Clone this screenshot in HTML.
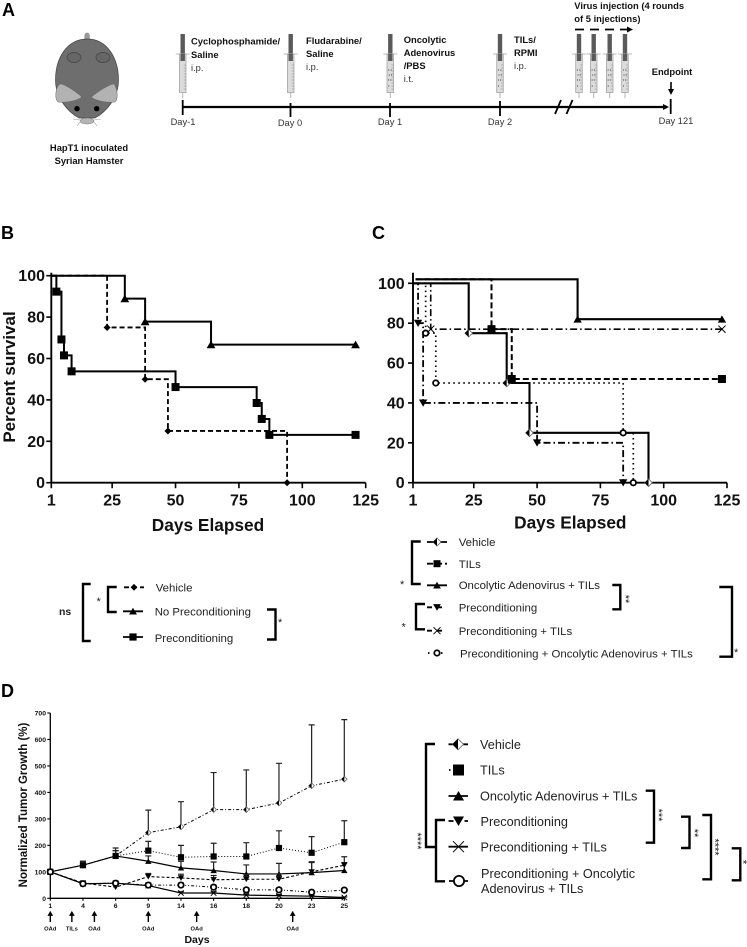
<!DOCTYPE html>
<html lang="en">
<head>
<meta charset="utf-8">
<title>Survival and tumor growth figure</title>
<style>
html,body{margin:0;padding:0;background:#fff;}
svg{display:block;font-family:"Liberation Sans",Arial,sans-serif;}
.letter{font-size:18px;font-weight:bold;fill:#000;}
.a-b{font-size:9.4px;font-weight:bold;fill:#111;}
.a-n{font-size:9.3px;fill:#333;}
.leg{font-size:11.4px;fill:#222;}
.legd{font-size:12.7px;fill:#222;}
.brk{fill:none;stroke:#000;stroke-width:2.4;}
.st{font-size:11px;fill:#222;}
.sw{stroke:#000;stroke-width:1.8;fill:none;}
</style>
</head>
<body>
<svg id="fig" xmlns="http://www.w3.org/2000/svg" width="747" height="947" viewBox="0 0 747 947">
<defs>
  <g id="m-diamond"><path d="M0-1 1 0 0 1-1 0Z" fill="#000"/></g>
  <g id="m-dhalf"><path d="M0-1 1 0 0 1-1 0Z" fill="#fff" stroke="#666" stroke-width="0.8" vector-effect="non-scaling-stroke"/><path d="M0-1 0 1-1 0Z" fill="#000"/></g>
  <g id="m-square"><rect x="-1" y="-1" width="2" height="2" fill="#000"/></g>
  <g id="m-up"><path d="M0-1 1.1 0.9-1.1 0.9Z" fill="#000"/></g>
  <g id="m-down"><path d="M0 1 1.1-0.9-1.1-0.9Z" fill="#000"/></g>
  <g id="m-x"><path d="M-1-1 1 1M1-1-1 1" fill="none" stroke="#000" stroke-width="1" vector-effect="non-scaling-stroke"/></g>
  <g id="m-circle"><circle r="0.85" fill="#fff" stroke="#000" stroke-width="1.8" vector-effect="non-scaling-stroke"/></g>
  <g id="syr">
    <rect x="-2.2" y="0" width="4.4" height="27" fill="#5a5a5a"/>
    <path d="M-7 20H7" stroke="#aaa" stroke-width="0.8"/>
    <rect x="-3.3" y="20" width="6.6" height="38.5" fill="#dcdcdc" stroke="#a5a5a5" stroke-width="0.8"/>
    <rect x="-2.2" y="20" width="4.4" height="7" fill="#5a5a5a"/>
    <path d="M1 31H3M1 34H3M1 37H3M1 40H3M1 43H3M1 46H3M1 49H3M1 52H3M1 55H3" stroke="#888" stroke-width="0.6"/>
    <path d="M0 58.5V64" stroke="#aaa" stroke-width="0.9"/>
  </g>
  <g id="dots" fill="#555">
    <circle cx="-1.6" cy="36" r="0.6"/><circle cx="0.8" cy="36" r="0.6"/><circle cx="-1" cy="41" r="0.6"/><circle cx="1.2" cy="41" r="0.6"/><circle cx="-1.6" cy="46" r="0.6"/><circle cx="0.5" cy="46" r="0.6"/><circle cx="-1.5" cy="52" r="0.6"/>
  </g>
  <marker id="ah" markerWidth="6" markerHeight="6" refX="4" refY="3" orient="auto" markerUnits="userSpaceOnUse"><path d="M0 0 6 3 0 6Z" fill="#000"/></marker>
</defs>

<text class="letter" x="2" y="16">A</text>
<text class="letter" x="1" y="239">B</text>
<text class="letter" x="372" y="239">C</text>
<text class="letter" x="1" y="697">D</text>

<g>
  <rect x="84.8" y="33" width="4.6" height="8" rx="2.2" fill="#999" stroke="#777" stroke-width="0.5"/>
  <path d="M87.3 39C67 39 55.5 58 55.5 80C55.5 98 68 112 79 118H95C106 112 118.5 98 118.5 80C118.5 58 107 39 87.3 39Z" fill="#6e6e6e" stroke="#444" stroke-width="0.7"/>
  <ellipse cx="74" cy="57.5" rx="7" ry="5" fill="#666" stroke="#444" stroke-width="0.7"/>
  <ellipse cx="103" cy="57.5" rx="7" ry="5" fill="#666" stroke="#444" stroke-width="0.7"/>
  <path d="M61 84C66 85 78 93 81.5 97C79 100 68 103 58 102C55 100 55.5 92 57 88C58 86 59 84 61 84Z" fill="#b2b2b2" stroke="#666" stroke-width="0.5"/>
  <path d="M113 84C108 85 96 93 91.5 97C94 100 105 103 115 102C118 100 117.5 92 116 88C115 86 115 84 113 84Z" fill="#b2b2b2" stroke="#666" stroke-width="0.5"/>
  <circle cx="77" cy="108.7" r="2.7" fill="#000"/>
  <circle cx="96.7" cy="108.7" r="2.7" fill="#000"/>
  <ellipse cx="87" cy="121" rx="7" ry="3" fill="#b5b5b5" stroke="#777" stroke-width="0.5"/>
  <path d="M80 120 73 119M80 122 77 126M94 120 101 119M94 122 97 126" stroke="#999" stroke-width="0.6" fill="none"/>
</g>
<text class="a-b" x="89" y="151" text-anchor="middle">HapT1 inoculated</text>
<text class="a-b" x="89" y="164" text-anchor="middle">Syrian Hamster</text>

<g>
  <path d="M182 107H667" stroke="#000" stroke-width="2.2" fill="none" marker-end="url(#ah)"/>
  <path d="M182.7 100V115M290.5 103V117M390 103V117M500 101V116M670.7 99V114" stroke="#000" stroke-width="1.8" fill="none"/>
  <path d="M555 114 561 100M566.5 114 572.5 100" stroke="#000" stroke-width="1.8" fill="none"/>
  <use href="#syr" x="182.7" y="34"/>
  <use href="#syr" x="290.7" y="34"/>
  <use href="#syr" x="390.3" y="34"/>
  <use href="#dots" x="390.3" y="34"/>
  <use href="#syr" x="500" y="34"/>
  <use href="#dots" x="500" y="34"/>
  <use href="#syr" x="579" y="34"/>
  <use href="#dots" x="579" y="34"/>
  <use href="#syr" x="593.7" y="34"/>
  <use href="#dots" x="593.7" y="34"/>
  <use href="#syr" x="609.7" y="34"/>
  <use href="#dots" x="609.7" y="34"/>
  <use href="#syr" x="625" y="34"/>
  <use href="#dots" x="625" y="34"/>
  <path d="M575 29.5H631" stroke="#000" stroke-width="1.8" stroke-dasharray="9 6" fill="none" marker-end="url(#ah)"/>
  <path d="M671 82V93" stroke="#000" stroke-width="1.6" fill="none" marker-end="url(#ah)"/>
</g>
<g>
  <text class="a-n" x="183" y="125" text-anchor="middle">Day-1</text>
  <text class="a-n" x="290" y="126" text-anchor="middle">Day 0</text>
  <text class="a-n" x="390" y="125" text-anchor="middle">Day 1</text>
  <text class="a-n" x="500" y="125" text-anchor="middle">Day 2</text>
  <text class="a-n" x="676" y="124" text-anchor="middle">Day 121</text>
  <text class="a-b" x="191" y="44.5">Cyclophosphamide/</text>
  <text class="a-b" x="191" y="58">Saline</text>
  <text class="a-n" x="191" y="71">i.p.</text>
  <text class="a-b" x="306" y="44">Fludarabine/</text>
  <text class="a-b" x="306" y="57">Saline</text>
  <text class="a-n" x="306" y="70">i.p.</text>
  <text class="a-b" x="403.7" y="43">Oncolytic</text>
  <text class="a-b" x="403.7" y="56">Adenovirus</text>
  <text class="a-b" x="403.7" y="69">/PBS</text>
  <text class="a-n" x="403.7" y="82">i.t.</text>
  <text class="a-b" x="514" y="43">TILs/</text>
  <text class="a-b" x="514" y="56">RPMI</text>
  <text class="a-n" x="514" y="69">i.p.</text>
  <text class="a-b" x="574.3" y="9">Virus injection (4 rounds</text>
  <text class="a-b" x="574.3" y="22">of 5 injections)</text>
  <text class="a-b" x="651.7" y="75">Endpoint</text>
</g>

<g id="panelB"></g>
<g id="panelC"></g>
<g id="panelD"></g>

<g>
  <text x="59" y="615" font-size="10.5" font-weight="bold" fill="#222">ns</text>
  <path class="brk" d="M90.7 584H83V641H90.7"/>
  <text class="st" x="96.5" y="605">*</text>
  <path class="brk" d="M116.7 587H108V612H116.7"/>
  <path class="brk" d="M267 609.5H275.5V639.5H267"/>
  <text class="st" x="278" y="626">*</text>
  <g>
    <path class="sw" stroke-dasharray="5 3" d="M124 587.3H144"/>
    <use href="#m-diamond" transform="translate(134 587.3) scale(3.4)"/>
    <text class="leg" x="155.7" y="591.5">Vehicle</text>
  </g>
  <g>
    <path class="sw" d="M123 611.3H143"/>
    <use href="#m-up" transform="translate(133 611.3) scale(3.6)"/>
    <text class="leg" x="154.7" y="615.5">No Preconditioning</text>
  </g>
  <g>
    <path class="sw" d="M123 637H143"/>
    <use href="#m-square" transform="translate(133 637) scale(3.6)"/>
    <text class="leg" x="154.7" y="642">Preconditioning</text>
  </g>
</g>

<g>
  <path class="brk" d="M420.7 541.5H412V584H420.7"/>
  <text class="st" x="400" y="588">*</text>
  <path class="brk" d="M425 604H416V629.3H425"/>
  <text class="st" x="401.5" y="630.5">*</text>
  <path class="brk" d="M612.3 585H620.3V609.3H612.3"/>
  <text class="st" transform="translate(622 599) rotate(90)" text-anchor="middle">**</text>
  <path class="brk" d="M719.3 587H732V656.7H719.3"/>
  <text class="st" x="734" y="656">*</text>
  <g>
    <path class="sw" d="M427 542H447"/><use href="#m-dhalf" transform="translate(437 542) scale(4)"/>
    <text class="leg" x="458.7" y="546">Vehicle</text>
  </g>
  <g>
    <path class="sw" stroke-dasharray="6 3" d="M427 563.7H447"/><use href="#m-square" transform="translate(437 563.7) scale(3.5)"/>
    <text class="leg" x="458.7" y="568">TILs</text>
  </g>
  <g>
    <path class="sw" d="M427 585.3H447"/><use href="#m-up" transform="translate(437 585.3) scale(3.5)"/>
    <text class="leg" x="458.7" y="589">Oncolytic Adenovirus + TILs</text>
  </g>
  <g>
    <path class="sw" stroke-dasharray="5 5" d="M427 607.3H447"/><use href="#m-down" transform="translate(437 607.3) scale(3.5)"/>
    <text class="leg" x="458.7" y="611.5">Preconditioning</text>
  </g>
  <g>
    <path class="sw" stroke-dasharray="5 5" d="M427 630.7H447"/><use href="#m-x" transform="translate(437 630.7) scale(3.5)"/>
    <text class="leg" x="458.7" y="635">Preconditioning + TILs</text>
  </g>
  <g>
    <path class="sw" stroke-dasharray="1.5 5" d="M428 653H447"/><use href="#m-circle" transform="translate(437 653) scale(3.2)"/>
    <text class="leg" x="460" y="657.5">Preconditioning + Oncolytic Adenovirus + TILs</text>
  </g>
</g>

<g>
  <path class="brk" d="M435 744H426V847H435"/>
  <path class="brk" d="M445 820H436V881.3H445"/>
  <text class="st" transform="translate(414 841) rotate(90)" text-anchor="middle" font-size="9">****</text>
  <path class="brk" d="M645.7 790.7H654V842.7H645.7"/>
  <text class="st" transform="translate(655 815) rotate(90)" text-anchor="middle" font-size="9">***</text>
  <path class="brk" d="M681 816.7H689.5V848H681"/>
  <text class="st" transform="translate(691 833) rotate(90)" text-anchor="middle" font-size="9">**</text>
  <path class="brk" d="M702.3 815H711V879.3H702.3"/>
  <text class="st" transform="translate(711.5 847) rotate(90)" text-anchor="middle" font-size="9">****</text>
  <path class="brk" d="M731.7 848.3H740.3V880.3H731.7"/>
  <text class="st" transform="translate(739.5 862) rotate(90)" text-anchor="middle" font-size="9">*</text>
  <g>
    <path class="sw" d="M448.5 744.3H468"/><use href="#m-dhalf" transform="translate(458 744.3) scale(5.5)"/>
    <text class="legd" x="480" y="749">Vehicle</text>
  </g>
  <g>
    <path class="sw" stroke-width="1" stroke-dasharray="1.5 12" d="M449 770H467"/><use href="#m-square" transform="translate(458.5 770) scale(5.5)"/>
    <text class="legd" x="480" y="774.5">TILs</text>
  </g>
  <g>
    <path class="sw" d="M448.5 796H468"/><use href="#m-up" transform="translate(458.5 796) scale(5)"/>
    <text class="legd" x="480" y="800.5">Oncolytic Adenovirus + TILs</text>
  </g>
  <g>
    <path class="sw" stroke-dasharray="5 11" d="M448.5 821H468"/><use href="#m-down" transform="translate(458.5 821) scale(5)"/>
    <text class="legd" x="480.5" y="826">Preconditioning</text>
  </g>
  <g>
    <path class="sw" d="M448.5 846.7H468"/><use href="#m-x" transform="translate(458.5 846.7) scale(5.5)"/>
    <text class="legd" x="480.5" y="851.5">Preconditioning + TILs</text>
  </g>
  <g>
    <path class="sw" d="M449 881H468"/><use href="#m-circle" transform="translate(459 881) scale(6)"/>
    <text class="legd" x="481" y="878">Preconditioning + Oncolytic</text>
    <text class="legd" x="481" y="893">Adenovirus + TILs</text>
  </g>
</g>
</svg>

<script>
// Panel B: survival
var bTicksX = [1, 25, 50, 75, 100, 125];
var bTicksY = [0, 20, 40, 60, 80, 100];
var bVehicleDays = [1, 23, 38, 47, 94];
var bVehicleSurvival = [100, 75, 50, 25, 0];
var bNoPrecondDays = [1, 30, 38, 64, 121];
var bNoPrecondSurvival = [100, 88.9, 77.8, 66.7, 66.7];
var bPrecondDays = [1, 3, 5, 6, 9, 50, 82, 84, 87, 121];
var bPrecondSurvival = [100, 92.3, 69.2, 61.5, 53.8, 46.2, 38.5, 30.8, 23.1, 23.1];

// Panel C: survival
var cTicksX = [1, 25, 50, 75, 100, 125];
var cTicksY = [0, 20, 40, 60, 80, 100];
var cVehicleDays = [1, 23, 38, 47, 94];
var cVehicleSurvival = [100, 75, 50, 25, 0];
var cTilsDays = [2, 32, 40, 123];
var cTilsSurvival = [102, 77, 52, 52];
var cOncolyticDays = [2, 66, 123];
var cOncolyticSurvival = [102, 82, 82];
var cPrecondDays = [1, 3, 5, 50, 84];
var cPrecondSurvival = [100, 80, 40, 20, 0];
var cPrecondTilsDays = [1, 8, 123];
var cPrecondTilsSurvival = [100, 77, 77];
var cTripleDays = [1, 6, 10, 84, 88];
var cTripleSurvival = [100, 75, 50, 25, 0];

// Panel D: tumor growth
var dDays = ['1', '4', '6', '9', '14', '16', '18', '20', '23', '25'];
var dTicksY = [0, 100, 200, 300, 400, 500, 600, 700];
var dVehicle = [100, 125, 160, 248, 270, 335, 335, 360, 425, 450];
var dVehicleErr = [0, 15, 30, 85, 95, 140, 150, 150, 230, 225];
var dTils = [100, 125, 160, 180, 155, 158, 158, 190, 172, 212];
var dTilsErr = [0, 15, 20, 35, 45, 50, 52, 65, 61, 81];
var dOncolytic = [100, 125, 160, 140, 115, 105, 92, 92, 97, 105];
var dOncolyticErr = [0, 12, 20, 20, 25, 32, 34, 40, 38, 30];
var dPrecond = [100, 58, 42, 82, 77, 70, 72, 72, 100, 125];
var dPrecondErr = [0, 6, 10, 12, 14, 16, 18, 20, 38, 32];
var dPrecondTils = [100, 55, 57, 48, 20, 20, 12, 10, 8, 3];
var dPrecondTilsErr = [0, 5, 6, 6, 5, 5, 4, 4, 3, 2];
var dTriple = [100, 55, 57, 50, 50, 42, 32, 32, 23, 31];
var dTripleErr = [0, 6, 8, 8, 8, 8, 6, 6, 5, 5];
var dTreatments = ['OAd', 'TILs', 'OAd', 'OAd', 'OAd', 'OAd'];
var dTreatmentAt = [0, 0.66, 1.35, 3, 4.48, 7.42];

var NS = 'http://www.w3.org/2000/svg';
function mk(parent, tag, name) {
  var el = document.createElementNS(NS, tag);
  
  
  parent.appendChild(el);
  return el;
}
function linear(d0, d1, r0, r1) {
  return function (v) { return r0 + (v - d0) * (r1 - r0) / (d1 - d0); };
}
function line(parent, name, d, width, dash, color) {
  var el = mk(parent, 'path', name);
  el.setAttribute('d', d);
  el.setAttribute('fill', 'none');
  el.setAttribute('stroke', color || '#000');
  el.setAttribute('stroke-width', width);
  if (dash) el.setAttribute('stroke-dasharray', dash);
  return el;
}
function label(parent, name, str, x, y, size, anchor, rot) {
  var el = mk(parent, 'text', name);
  el.textContent = str;
  el.setAttribute('font-size', size);
  el.setAttribute('font-weight', 'bold');
  el.setAttribute('fill', '#111');
  el.setAttribute('text-anchor', anchor);
  if (rot) {
    el.setAttribute('transform', 'translate(' + x + ' ' + y + ') rotate(' + rot + ')');
  } else {
    el.setAttribute('x', x);
    el.setAttribute('y', y);
  }
  return el;
}
function marker(parent, name, kind, x, y, s) {
  var el = mk(parent, 'use', name);
  el.setAttribute('href', '#m-' + kind);
  el.setAttribute('transform', 'translate(' + x + ' ' + y + ') scale(' + s + ')');
  return el;
}
function stepSeries(parent, name, days, vals, sx, sy, kind, size, width, dash) {
  var g = mk(parent, 'g', name);
  var d = 'M' + sx(days[0]) + ' ' + sy(vals[0]);
  for (var i = 1; i < days.length; i++) {
    d += 'H' + sx(days[i]) + 'V' + sy(vals[i]);
  }
  line(g, name + '-line', d, width, dash);
  for (var j = 1; j < days.length; j++) {
    marker(g, name + '-point', kind, sx(days[j]), sy(vals[j]), size);
  }
}
function survivalAxes(parent, sx, sy, ticksX, ticksY, yLabelX, topPx) {
  var x0 = sx(ticksX[0]), x1 = sx(ticksX[ticksX.length - 1]), y0 = sy(0);
  line(parent, 'x-axis', 'M' + x0 + ' ' + y0 + 'H' + x1, 1.9);
  line(parent, 'y-axis', 'M' + x0 + ' ' + topPx + 'V' + y0, 1.9);
  ticksX.forEach(function (t) {
    line(parent, 'x-tick', 'M' + sx(t) + ' ' + y0 + 'v5.5', 1.6);
    label(parent, 'x-tick-label', String(t), sx(t), y0 + 23, 16, 'middle');
  });
  ticksY.forEach(function (t) {
    line(parent, 'y-tick', 'M' + x0 + ' ' + sy(t) + 'h-5', 1.6);
    label(parent, 'y-tick-label', String(t), yLabelX, sy(t) + 5.5, 16, 'end');
  });
}

// Panel B
var gB = document.getElementById('panelB');
var bx = linear(1, 125, 51.3, 365.7);
var by = linear(0, 100, 482.7, 275.7);
survivalAxes(gB, bx, by, bTicksX, bTicksY, 45, 272.7);
stepSeries(gB, 'series-vehicle', bVehicleDays, bVehicleSurvival, bx, by, 'diamond', 3.5, 1.8, '5 3');
stepSeries(gB, 'series-no-preconditioning', bNoPrecondDays, bNoPrecondSurvival, bx, by, 'up', 4, 2);
stepSeries(gB, 'series-preconditioning', bPrecondDays, bPrecondSurvival, bx, by, 'square', 4, 2);
label(gB, 'x-axis-title', 'Days Elapsed', 208, 531, 17.3, 'middle');
label(gB, 'y-axis-title', 'Percent survival', 15, 377, 17, 'middle', -90);

// Panel C
var gC = document.getElementById('panelC');
var cx = linear(1, 125, 413, 727);
var cy = linear(0, 100, 482.7, 283.3);
survivalAxes(gC, cx, cy, cTicksX, cTicksY, 404.7, 272.7);
stepSeries(gC, 'series-vehicle', cVehicleDays, cVehicleSurvival, cx, cy, 'dhalf', 3.8, 2.1);
stepSeries(gC, 'series-tils', cTilsDays, cTilsSurvival, cx, cy, 'square', 4, 2, '6 3');
stepSeries(gC, 'series-oncolytic-tils', cOncolyticDays, cOncolyticSurvival, cx, cy, 'up', 3.8, 2.1);
stepSeries(gC, 'series-preconditioning', cPrecondDays, cPrecondSurvival, cx, cy, 'down', 3.8, 1.8, '7 3 1.5 3');
stepSeries(gC, 'series-preconditioning-tils', cPrecondTilsDays, cPrecondTilsSurvival, cx, cy, 'x', 3.6, 1.6, '7 3 1.5 3');
stepSeries(gC, 'series-preconditioning-oncolytic-tils', cTripleDays, cTripleSurvival, cx, cy, 'circle', 3.2, 1.7, '1.5 3.5');
label(gC, 'x-axis-title', 'Days Elapsed', 570.3, 528.5, 17.3, 'middle');

// Panel D
var gD = document.getElementById('panelD');
var dxStep = (344.3 - 50.3) / (dDays.length - 1);
function dx(i) { return 50.3 + i * dxStep; }
var dy = linear(0, 700, 898.3, 713);
line(gD, 'x-axis', 'M' + dx(0) + ' ' + dy(0) + 'H' + dx(dDays.length - 1), 1.3);
line(gD, 'y-axis', 'M' + dx(0) + ' ' + dy(700) + 'V' + dy(0), 1.3);
dTicksY.forEach(function (t) {
  line(gD, 'y-tick', 'M' + dx(0) + ' ' + dy(t) + 'h-3', 1.1);
  label(gD, 'y-tick-label', String(t), 46, dy(t) + 2.5, 6.8, 'end');
});
dDays.forEach(function (t, i) {
  line(gD, 'x-tick', 'M' + dx(i) + ' ' + dy(0) + 'v2.5', 1.1);
  label(gD, 'x-tick-label', t, dx(i), dy(0) + 9.5, 6.8, 'middle');
});
function growthSeries(name, vals, errs, kind, size, width, dash) {
  var g = mk(gD, 'g', name);
  var d = '';
  vals.forEach(function (v, i) {
    d += (i ? 'L' : 'M') + dx(i) + ' ' + dy(v);
  });
  vals.forEach(function (v, i) {
    if (errs[i] > 0) {
      line(g, name + '-error-bar', 'M' + dx(i) + ' ' + dy(v) + 'V' + dy(v + errs[i]) + 'm-3 0h6', 1.2, null, '#222');
    }
  });
  line(g, name + '-line', d, width, dash);
  vals.forEach(function (v, i) {
    marker(g, name + '-point', kind, dx(i), dy(v), size);
  });
}
growthSeries('series-vehicle', dVehicle, dVehicleErr, 'dhalf', 2.8, 1, '3 2 1 2');
growthSeries('series-tils', dTils, dTilsErr, 'square', 3.1, 1, '1 2');
growthSeries('series-oncolytic-tils', dOncolytic, dOncolyticErr, 'up', 2.9, 1.2);
growthSeries('series-preconditioning', dPrecond, dPrecondErr, 'down', 2.9, 1.1, '3 2');
growthSeries('series-preconditioning-tils', dPrecondTils, dPrecondTilsErr, 'x', 2.7, 1.2);
growthSeries('series-preconditioning-oncolytic-tils', dTriple, dTripleErr, 'circle', 3.2, 1, '3 2 1 2 1 2');
dTreatments.forEach(function (t, i) {
  var x = dx(dTreatmentAt[i]);
  line(gD, 'treatment-arrow', 'M' + x + ' 922V914', 1.4);
  var head = mk(gD, 'use', 'treatment-arrowhead');
  head.setAttribute('href', '#m-up');
  head.setAttribute('transform', 'translate(' + x + ' 913.5) scale(2.6)');
  label(gD, 'treatment-label', t, x, 930.5, 5.8, 'middle');
});
label(gD, 'x-axis-title', 'Days', 197, 943, 10.5, 'middle');
label(gD, 'y-axis-title', 'Normalized Tumor Growth (%)', 27, 805, 11.5, 'middle', -90);
</script>
</body>
</html>
